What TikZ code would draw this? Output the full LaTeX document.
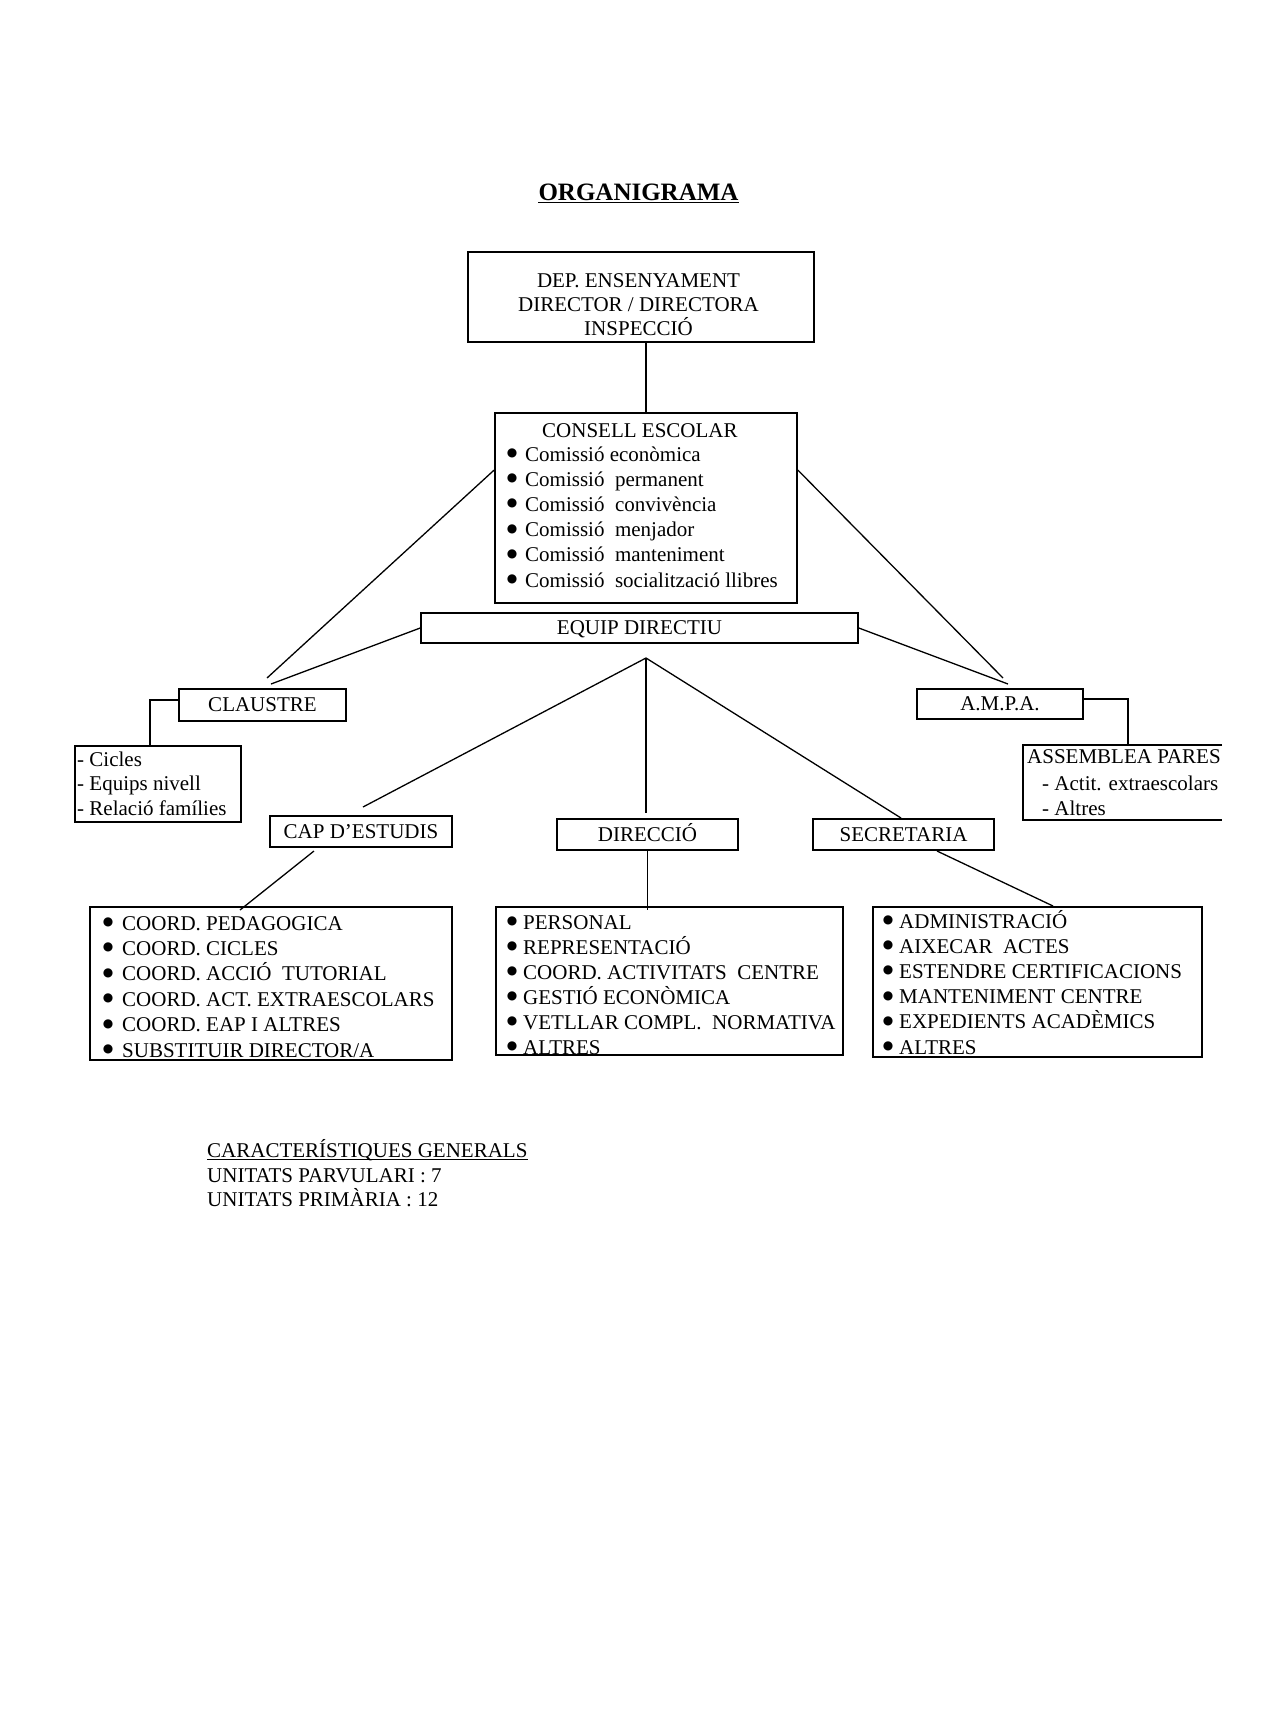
\documentclass[tikz,border=0pt]{standalone}
\usepackage{fontspec}
\setmainfont{Liberation Serif}
\newfontfamily\dejavu{DejaVu Sans}
\newcommand\bl[1]{\llap{\makebox[#1][l]{\makebox[0pt]{\raisebox{4.5pt}{\dejavu\fontsize{12}{12}\selectfont ●}}}}}
\begin{document}
\begin{tikzpicture}[x=1pt,y=-1pt,
  bx/.style={draw, line width=1.6pt, inner sep=0pt, font=\fontsize{21}{25}\selectfont, text height=13.9pt, text depth=0pt},
  txt/.style={inner sep=0pt, font=\fontsize{21}{25}\selectfont, text height=14pt, text depth=3pt},
  ln/.style={line width=1.3pt}]
\useasboundingbox (0,0) rectangle (1275,1725);
% title
\node[font=\bfseries\fontsize{25}{30}\selectfont, inner sep=0pt, anchor=base] (title) at (638.5,200) {ORGANIGRAMA};
\draw[line width=1.8pt] ([yshift=-2.5pt]title.base west) -- ([yshift=-2.5pt]title.base east);
% boxes
\node[bx, minimum width=346pt, minimum height=90pt] (top) at (641,297) {};
\node[bx, minimum width=302pt, minimum height=190pt] (consell) at (646,508) {};
\node[bx, minimum width=437pt, minimum height=30pt] (equip) at (639.5,628) {EQUIP DIRECTIU};
\node[bx, minimum width=167pt, minimum height=32pt] (claustre) at (262.5,705) {CLAUSTRE};
\node[bx, minimum width=166pt, minimum height=76pt] (clist) at (158,784) {};
\node[bx, minimum width=166pt, minimum height=30pt] (ampa) at (1000,704) {A.M.P.A.};
\node[inner sep=0pt, minimum width=199pt, minimum height=75pt] (alist) at (1122.5,782.5) {};
\draw[line width=1.6pt] (alist.north east) -- (alist.north west) -- (alist.south west) -- (alist.south east);
\node[bx, minimum width=182pt, minimum height=31pt] (cap) at (361,831.5) {CAP D’ESTUDIS};
\node[bx, minimum width=181pt, minimum height=31pt] (dir) at (647.5,834.5) {DIRECCIÓ};
\node[bx, minimum width=181pt, minimum height=31pt] (sec) at (903.5,834.5) {SECRETARIA};
\node[bx, minimum width=362pt, minimum height=153pt] (caplist) at (271,983.5) {};
\node[bx, minimum width=347pt, minimum height=148pt] (dirlist) at (669.5,981) {};
\node[bx, minimum width=329pt, minimum height=150pt] (seclist) at (1037.5,982) {};
% top texts
\node[txt, anchor=base] (t1) at (638.5,287) {DEP. ENSENYAMENT};
\node[txt, anchor=base] (t2) at (638.5,311) {DIRECTOR / DIRECTORA};
\node[txt, anchor=base] (t3) at (638.5,335) {INSPECCIÓ};
% consell
\node[txt, anchor=base west] (csh) at (542,437) {CONSELL ESCOLAR};
\foreach \t [count=\i from 0] in {Comissió econòmica, Comissió~ permanent, Comissió~ convivència, Comissió~ menjador, Comissió~ manteniment, Comissió~ socialització llibres}
  \node[txt, anchor=base west] (cs\i) at (525, {461+25.2*\i}) {\bl{13pt}\t};
% claustre list
\node[txt, anchor=base west] (cl1) at (77,766) {- Cicles};
\node[txt, anchor=base west] (cl2) at (77,790) {- Equips nivell};
\node[txt, anchor=base west] (cl3) at (77,815) {- Relació famílies};
% ampa list
\node[txt, anchor=base west] (al1) at (1027,763) {ASSEMBLEA PARES};
\node[txt, anchor=base west] (al2) at (1042,790) {- Actit. extraescolars};
\node[txt, anchor=base west] (al3) at (1042,815) {- Altres};
% cap list
\foreach \t [count=\i from 0] in {COORD. PEDAGOGICA, COORD. CICLES, COORD. ACCIÓ~ TUTORIAL, COORD. ACT. EXTRAESCOLARS, COORD. EAP I ALTRES, SUBSTITUIR DIRECTOR/A}
  \node[txt, anchor=base west] (ca\i) at (122, {930+25.4*\i}) {\bl{14pt}\t};
% direccio list
\begin{scope}
\clip (dirlist.north west) rectangle (dirlist.south east);
\foreach \t [count=\i from 0] in {PERSONAL, REPRESENTACIÓ, COORD. ACTIVITATS~ CENTRE, GESTIÓ ECONÒMICA, VETLLAR COMPL.~ NORMATIVA, ALTRES}
  \node[txt, anchor=base west] (di\i) at (523, {929+25*\i}) {\bl{11pt}\t};
\end{scope}
% secretaria list
\foreach \t [count=\i from 0] in {ADMINISTRACIÓ, AIXECAR~ ACTES, ESTENDRE CERTIFICACIONS, MANTENIMENT CENTRE, EXPEDIENTS ACADÈMICS, ALTRES}
  \node[txt, anchor=base west] (se\i) at (899, {928+25.2*\i}) {\bl{11pt}\t};
% bottom text
\node[txt, anchor=base west] (cg) at (207,1157) {CARACTERÍSTIQUES GENERALS};
\draw[line width=1pt] ([yshift=-2pt]cg.base west) -- ([yshift=-2pt]cg.base east);
\node[txt, anchor=base west] (up1) at (207,1182) {UNITATS PARVULARI : 7};
\node[txt, anchor=base west] (up2) at (207,1206) {UNITATS PRIMÀRIA : 12};
% connectors
\draw[ln] (consell.north) -- (consell.north |- top.south);
\coordinate (clA) at (267,678); \coordinate (clB) at (271,684);
\coordinate (amA) at (1003,678); \coordinate (amB) at (1008,684);
\draw[ln] ([yshift=38pt]consell.west) -- (clA);
\draw[ln] (equip.west) -- (clB);
\draw[ln] ([yshift=38pt]consell.east) -- (amA);
\draw[ln] (equip.east) -- (amB);
\coordinate (apex) at (646,658);
\coordinate (capT) at (363,807); \coordinate (dirT) at (646,813); \coordinate (secT) at (901,818);
\draw[ln] (capT) -- (apex) -- (secT);
\draw[ln] (apex) -- (dirT);
\draw[ln] ([yshift=5pt]claustre.west) -| ([xshift=-8pt]clist.north);
\draw[ln] ([yshift=5pt]ampa.east) -| ([xshift=5.5pt]alist.north);
\coordinate (capB) at (314,851); \coordinate (capL) at (240,910);
\draw[ln] (capB) -- (capL);
\draw[ln] (dir.south) -- ([yshift=-4pt]dir.south |- dirlist.north);
\coordinate (secB) at (937,851); \coordinate (secL) at (1053,906);
\draw[ln] (secB) -- (secL);
\end{tikzpicture}
\end{document}
